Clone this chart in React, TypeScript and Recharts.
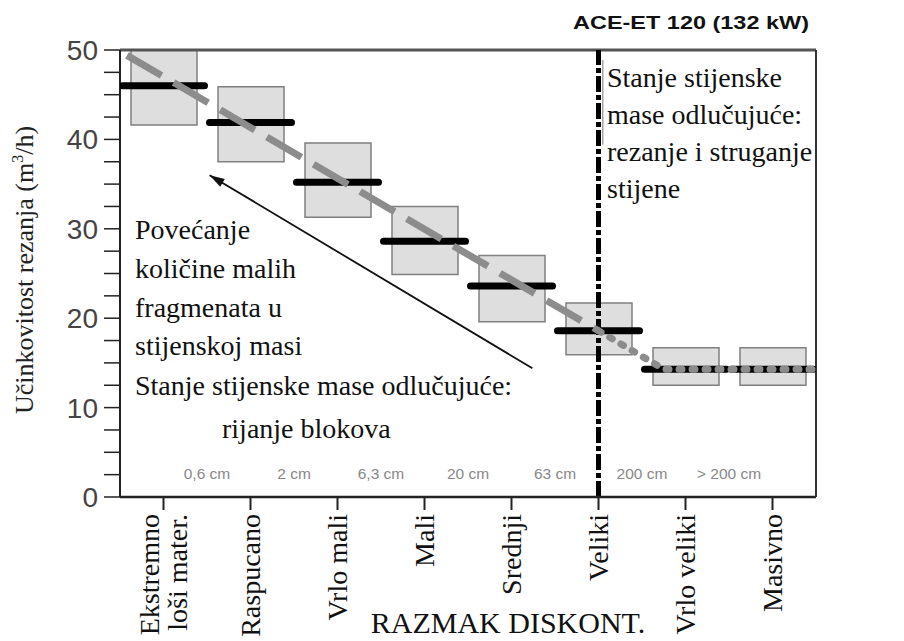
import React from 'react';
import { ComposedChart, Bar, Scatter, XAxis, YAxis, ReferenceLine } from 'recharts';

const categories = ['Ekstremno\nloši mater.', 'Raspucano', 'Vrlo mali', 'Mali', 'Srednji', 'Veliki', 'Vrlo veliki', 'Masivno'];
const boxHigh = [50, 45.9, 39.6, 32.5, 27.0, 21.7, 16.7, 16.7];
const boxLow = [41.6, 37.5, 31.3, 24.9, 19.6, 15.9, 12.5, 12.5];
const medians = [46.0, 41.9, 35.2, 28.6, 23.6, 18.6, 14.3, 14.3];
const spacingLabels = ['0,6 cm', '2 cm', '6,3 cm', '20 cm', '63 cm', '200 cm', '> 200 cm'];
const trendDashedX = [0.08, 5.5];
const trendDashedY = [49.4, 18.6];
const trendDottedX = [5.5, 6.25, 8];
const trendDottedY = [18.6, 14.3, 14.3];
const arrowX = [1.03, 4.74];
const arrowY = [36.0, 14.4];
const leftTicks = [0, 2.5, 5, 7.5, 10, 12.5, 15, 17.5, 20, 22.5, 25, 27.5, 30, 32.5, 35, 37.5, 40, 42.5, 45, 47.5, 50];
const rightTickValues = [14.3, 30, 50];
const rightTickLabels = ['50%', '100%', '140%'];
const dividerX = 5.5;
const textBoxEdgeX = 5.55;
const textBoxEdgeY = [48.9, 39.4];
const spacingLabelY = 2.6;

const data = categories.map((name, i) => ({ name, range: [boxLow[i], boxHigh[i]] }));
const medianPts = medians.map((y, i) => ({ x: i + 0.5, y }));
const spacingPts = spacingLabels.map((label, i) => ({ x: i + 1, y: spacingLabelY, label }));
const dashedPts = trendDashedX.map((x, i) => ({ x, y: trendDashedY[i] }));
const dottedPts = trendDottedX.map((x, i) => ({ x, y: trendDottedY[i] }));
const arrowPts = arrowX.map((x, i) => ({ x, y: arrowY[i], tip: i === 0 }));

const SERIF = "'Liberation Serif', 'Times New Roman', serif";
const SANS = "'Liberation Sans', Arial, sans-serif";

const CatTick = (props: any) => {
  const { x, y, payload } = props;
  const lines = String(payload.value).split('\n');
  const lh = 28;
  return (
    <g transform={`translate(${x},${y})`}>
      <text transform="rotate(-90)" textAnchor="end" fontFamily={SERIF} fontSize={28} fill="#111">
        {lines.map((l, i) => (
          <tspan key={i} x={0} dy={i === 0 ? -((lines.length - 1) / 2) * lh + 9 : lh}>{l}</tspan>
        ))}
      </text>
    </g>
  );
};

const MedianShape = (props: any) => {
  const { cx, cy } = props;
  return <line x1={cx - 41} x2={cx + 41} y1={cy} y2={cy} stroke="#000" strokeWidth={7} strokeLinecap="round" />;
};

const SpacingShape = (props: any) => {
  const { cx, cy, payload } = props;
  return (
    <text x={cx} y={cy} textAnchor="middle" dominantBaseline="central" fontFamily={SANS} fontSize={15.5} fill="#888">
      {payload.label}
    </text>
  );
};

const ArrowShape = (props: any) => {
  const { cx, cy, payload } = props;
  if (!payload || !payload.tip) return <g />;
  const ux = -0.859, uy = -0.515;
  const len = 15, half = 4.5;
  const bx = cx - ux * len, by = cy - uy * len;
  const nx = -uy, ny = ux;
  const pts = `${cx},${cy} ${bx + nx * half},${by + ny * half} ${bx - nx * half},${by - ny * half}`;
  return <polygon points={pts} fill="#111" />;
};

const NoShape = () => <g />;

export default function App() {
  const rightFmt = (v: number) => {
    const idx = rightTickValues.indexOf(v);
    return idx >= 0 ? rightTickLabels[idx] : '';
  };
  return (
    <div style={{ position: 'absolute', left: 0, top: 0, width: 904, height: 641, background: '#fff' }}>
      <ComposedChart width={904} height={641} data={data} margin={{ top: 50, right: 0, bottom: 0, left: 0 }}>
        <XAxis
          xAxisId="cat"
          dataKey="name"
          interval={0}
          height={144}
          tick={<CatTick />}
          tickSize={13}
          tickMargin={4}
          tickLine={{ stroke: '#222', strokeWidth: 2 }}
          axisLine={{ stroke: '#222', strokeWidth: 2.5 }}
        />
        <XAxis xAxisId="num" dataKey="x" type="number" domain={[0, 8]} allowDataOverflow hide />
        <YAxis
          yAxisId="left"
          domain={[0, 50]}
          ticks={leftTicks}
          interval={0}
          width={120}
          tickSize={16}
          tickMargin={6}
          tickFormatter={(v: number) => (v % 10 === 0 ? String(v) : '')}
          tick={{ fill: '#444', fontSize: 28, fontFamily: SANS }}
          tickLine={{ stroke: '#222', strokeWidth: 1.5 }}
          axisLine={{ stroke: '#222', strokeWidth: 2 }}
        />
        <YAxis
          yAxisId="right"
          orientation="right"
          domain={[0, 50]}
          ticks={rightTickValues}
          interval={0}
          width={88}
          tickSize={20}
          tickMargin={2}
          tickFormatter={rightFmt}
          tick={{ fill: '#444', fontSize: 24, fontFamily: SANS }}
          tickLine={{ stroke: '#333', strokeWidth: 1.5 }}
          axisLine={{ stroke: '#333', strokeWidth: 2 }}
        />
        <ReferenceLine yAxisId="left" xAxisId="cat" y={50} stroke="#555" strokeWidth={3} />
        <Bar
          xAxisId="cat"
          yAxisId="left"
          dataKey="range"
          barSize={66}
          fill="#dedede"
          stroke="#808080"
          strokeWidth={1.5}
          isAnimationActive={false}
        />
        <Scatter xAxisId="num" yAxisId="left" data={medianPts} dataKey="y" shape={<MedianShape />} isAnimationActive={false} />
        <Scatter
          xAxisId="num"
          yAxisId="left"
          data={dashedPts}
          dataKey="y"
          shape={<NoShape />}
          line={{ stroke: '#8c8c8c', strokeWidth: 7, strokeDasharray: '40 14' }}
          isAnimationActive={false}
        />
        <Scatter
          xAxisId="num"
          yAxisId="left"
          data={dottedPts}
          dataKey="y"
          shape={<NoShape />}
          line={{ stroke: '#8c8c8c', strokeWidth: 7, strokeDasharray: '3 10', strokeLinecap: 'round' }}
          isAnimationActive={false}
        />
        <Scatter
          xAxisId="num"
          yAxisId="left"
          data={arrowPts}
          dataKey="y"
          shape={<ArrowShape />}
          line={{ stroke: '#111', strokeWidth: 1.8 }}
          isAnimationActive={false}
        />
        <Scatter xAxisId="num" yAxisId="left" data={spacingPts} dataKey="y" shape={<SpacingShape />} isAnimationActive={false} />
        <ReferenceLine xAxisId="num" yAxisId="left" x={dividerX} stroke="#000" strokeWidth={5} strokeDasharray="16 3 5 3" />
        <ReferenceLine
          xAxisId="num"
          yAxisId="left"
          segment={[{ x: textBoxEdgeX, y: textBoxEdgeY[0] }, { x: textBoxEdgeX, y: textBoxEdgeY[1] }]}
          stroke="#777"
          strokeWidth={1}
        />
      </ComposedChart>
      <svg width={904} height={641} style={{ position: 'absolute', left: 0, top: 0, pointerEvents: 'none' }}>
        <text x={691} y={29} textAnchor="middle" fontFamily={SANS} fontWeight="bold" fontSize={19} fill="#111" textLength={236} lengthAdjust="spacingAndGlyphs">
          ACE-ET 120 (132 kW)
        </text>
        <text transform="translate(33,270) rotate(-90)" textAnchor="middle" fontFamily={SERIF} fontSize={26} fill="#222">
          Učinkovitost rezanja (m<tspan fontSize={16} dy={-10}>3</tspan><tspan dy={10}>/h)</tspan>
        </text>
        <g fontFamily={SERIF} fontSize={28} fill="#111">
          <text x={607} y={87}>Stanje stijenske</text>
          <text x={607} y={124}>mase odlučujuće:</text>
          <text x={607} y={161}>rezanje i struganje</text>
          <text x={607} y={198}>stijene</text>
          <text x={135} y={239}>Povećanje</text>
          <text x={135} y={278}>količine malih</text>
          <text x={135} y={317}>fragmenata u</text>
          <text x={135} y={355}>stijenskoj masi</text>
          <text x={135} y={395}>Stanje stijenske mase odlučujuće:</text>
          <text x={222} y={438}>rijanje blokova</text>
        </g>
        <text x={508} y={633} textAnchor="middle" fontFamily={SERIF} fontSize={30} fill="#111">RAZMAK DISKONT.</text>
      </svg>
    </div>
  );
}
